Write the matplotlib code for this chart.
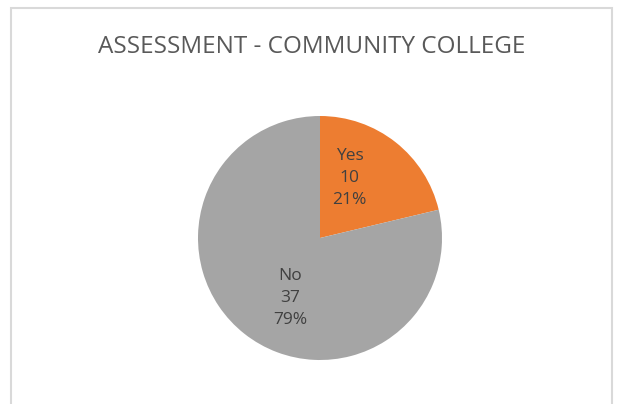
import numpy as np
import matplotlib
matplotlib.use("Agg")
import matplotlib.pyplot as plt
from matplotlib.patches import Rectangle

# Data
categories = ["Yes", "No"]
counts = [10, 37]
colors = ["#ED7D31", "#A5A5A5"]
title = "ASSESSMENT - COMMUNITY COLLEGE"

plt.rcParams["font.family"] = ["Open Sans", "DejaVu Sans"]

fig = plt.figure(figsize=(6.28, 4.04), dpi=100)
fig.patch.set_facecolor("white")

# light grey chart frame (bottom edge runs off the picture)
fig.patches.append(Rectangle((11 / 628, -0.05), 601 / 628, 1.05 - 8 / 404,
                             transform=fig.transFigure, fill=False,
                             edgecolor="#d9d9d9", linewidth=1.5))

fig.text(312 / 628, 1 - 47 / 404, title, ha="center", va="center",
         fontsize=17.5, color="#595959")

# pie axes: centre (320, 238), radius ~122 px
r = 122
ax = fig.add_axes([(320 - r) / 628, 1 - (238 + r) / 404, 2 * r / 628, 2 * r / 404])
wedges, _ = ax.pie(counts, colors=colors, startangle=90, counterclock=False,
                   wedgeprops=dict(linewidth=0))
ax.set_xlim(-1, 1)
ax.set_ylim(-1, 1)
ax.set_aspect("equal")

# data labels inside slices (Excel style: name, value, percent)
total = sum(counts)
for w, c, n in zip(wedges, categories, counts):
    mid = np.deg2rad((w.theta1 + w.theta2) / 2 + 12)
    ax.text(0.545 * np.cos(mid), 0.545 * np.sin(mid), f"{c}\n{n}\n{n / total:.0%}",
            ha="center", va="center", fontsize=12.5, color="#404040", linespacing=1.5)

fig.savefig("out.png", dpi=100)
